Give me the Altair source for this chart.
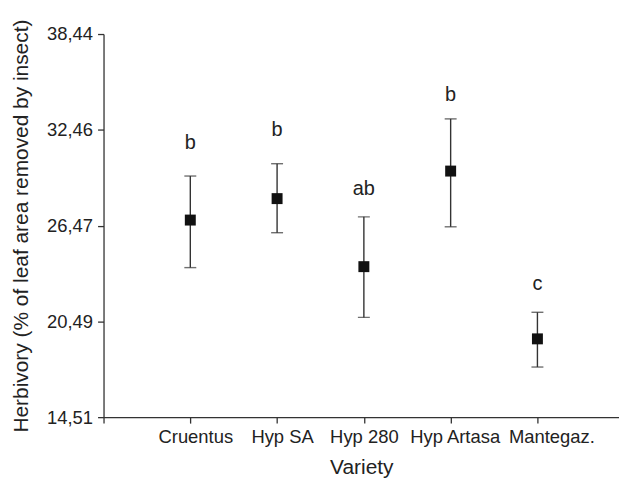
import altair as alt
import pandas as pd

categories = ["Cruentus", "Hyp SA", "Hyp 280", "Hyp Artasa", "Mantegaz."]
means = [26.82, 28.16, 23.91, 29.88, 19.40]
lower = [23.85, 26.03, 20.74, 26.40, 17.64]
upper = [29.57, 30.34, 27.02, 33.14, 21.06]
letters = ["b", "b", "ab", "b", "c"]
letter_y = [31.29, 32.10, 28.37, 34.27, 22.47]
y_ticks = [14.51, 20.49, 26.47, 32.46, 38.44]
y_tick_labels = ["14,51", "20,49", "26,47", "32,46", "38,44"]
label_shift = [5, 5, 0, 4, 14]

df = pd.DataFrame({
    "pos": list(range(1, len(categories) + 1)),
    "variety": categories,
    "mean": means,
    "lower": lower,
    "upper": upper,
    "letter": letters,
    "letter_y": letter_y,
})

FONT = "Liberation Sans"
INK = "#222222"
LINE = "#333333"

x_label_expr = "datum.value == 0 ? '' : " + " : ".join(
    f"datum.value == {i + 1} ? '{c}'" for i, c in enumerate(categories)
) + " : ''"
y_label_expr = " : ".join(
    f"abs(datum.value - {v}) < 0.001 ? '{l}'" for v, l in zip(y_ticks, y_tick_labels)
) + " : ''"

label_offset = {
    "condition": [
        {"test": f"datum.value == {i + 1}", "value": s} for i, s in enumerate(label_shift)
    ],
    "value": 0,
}

x_enc = alt.X(
    "pos:Q",
    scale=alt.Scale(domain=[0, 5.94], nice=False, zero=False),
    axis=alt.Axis(
        title="Variety",
        values=[0, 1, 2, 3, 4, 5],
        labelExpr=x_label_expr,
        grid=False,
        labelOverlap=False,
        labelFlush=False,
        labelBound=False,
        labelOffset=label_offset,
        tickSize=6,
        labelPadding=4,
        titlePadding=11,
    ),
)
y_scale = alt.Scale(domain=[14.51, 38.44], nice=False, zero=False)
y_axis = alt.Axis(
    title="Herbivory (% of leaf area removed by insect)",
    values=y_ticks,
    labelExpr=y_label_expr,
    grid=False,
    labelFlush=False,
    labelOverlap=False,
    tickSize=6,
    labelPadding=5,
    titlePadding=15,
)

base = alt.Chart(df)

rules = base.mark_rule(color=LINE, strokeWidth=1.4).encode(
    x=x_enc,
    y=alt.Y("lower:Q", scale=y_scale, axis=y_axis),
    y2="upper:Q",
)
caps_low = base.mark_tick(orient="horizontal", size=12, thickness=1.4, color=LINE).encode(
    x="pos:Q", y="lower:Q"
)
caps_high = base.mark_tick(orient="horizontal", size=12, thickness=1.4, color=LINE).encode(
    x="pos:Q", y="upper:Q"
)
points = base.mark_square(size=121, color="#111111", opacity=1, filled=True).encode(
    x="pos:Q", y="mean:Q"
)
text = base.mark_text(font=FONT, fontSize=20, color=INK, baseline="alphabetic", align="center").encode(
    x="pos:Q", y="letter_y:Q", text="letter:N"
)

chart = alt.layer(rules, caps_low, caps_high, points, text).properties(
    width=518,
    height=385,
    autosize=alt.AutoSizeParams(type="none"),
    padding={"left": 96, "top": 25, "right": 0, "bottom": 62},
).configure_view(stroke=None).configure_axis(
    domainColor=LINE,
    domainWidth=1.3,
    tickColor=LINE,
    tickWidth=1.3,
    labelFont=FONT,
    labelFontSize=18.5,
    labelColor=INK,
    titleFont=FONT,
    titleFontSize=21,
    titleFontWeight="normal",
    titleColor=INK,
)

chart.save("out.html", embed_options={"renderer": "svg", "actions": False})
